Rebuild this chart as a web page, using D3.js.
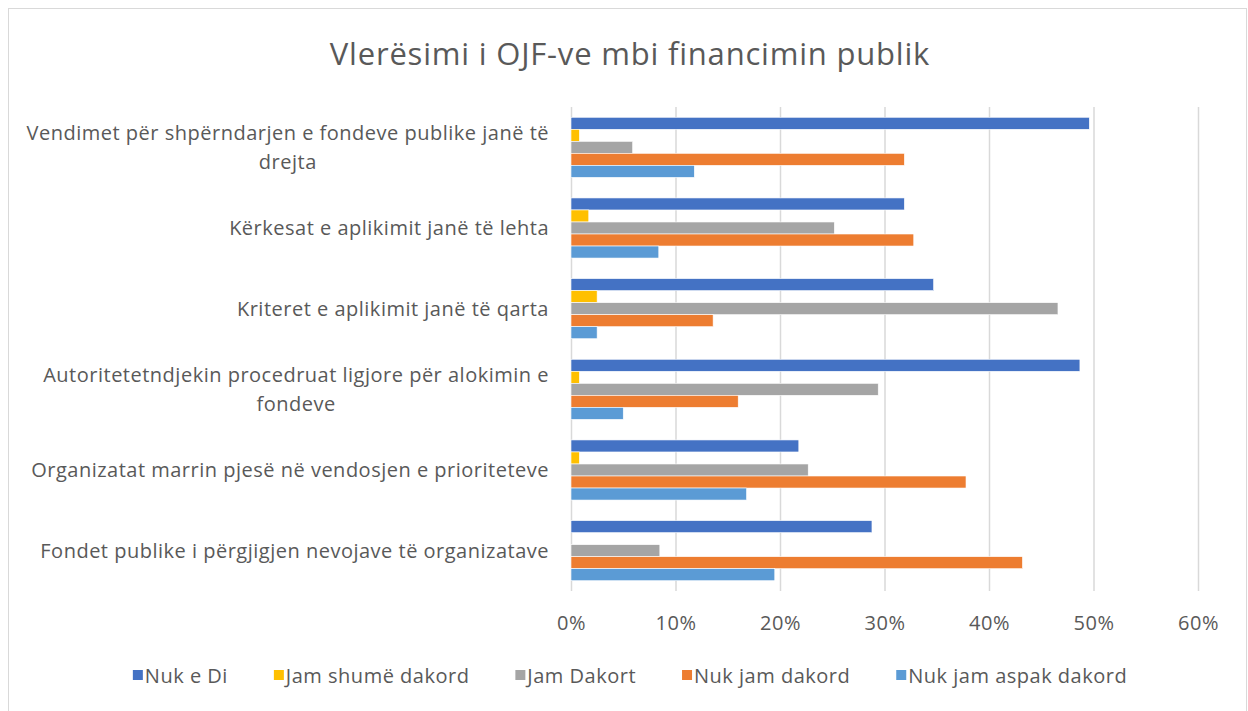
<!DOCTYPE html>
<html>
<head>
<meta charset="utf-8">
<script src="https://cdn.jsdelivr.net/npm/d3@7"></script>
<style>
  html, body { margin: 0; padding: 0; background: #fff; }
  svg { display: block; font-family: "Open Sans", Lato, sans-serif; }
</style>
</head>
<body>
<svg id="chart" width="1248" height="711"></svg>
<script>
const title = "Vlerësimi i OJF-ve mbi financimin publik";
const categories = [
  ["Vendimet për shpërndarjen e fondeve publike janë të", "drejta"],
  ["Kërkesat e aplikimit janë të lehta"],
  ["Kriteret e aplikimit janë të qarta"],
  ["Autoritetetndjekin procedruat ligjore për alokimin e", "fondeve"],
  ["Organizatat marrin pjesë në vendosjen e prioriteteve"],
  ["Fondet publike i përgjigjen nevojave të organizatave"]
];
const seriesNames = ["Nuk e Di", "Jam shumë dakord", "Jam Dakort", "Nuk jam dakord", "Nuk jam aspak dakord"];
const seriesColors = ["#4472C4", "#FFC000", "#A5A5A5", "#ED7D31", "#5B9BD5"];
// values per series, in category order (fractions)
const nukEDi          = [0.496, 0.319, 0.347, 0.487, 0.218, 0.288];
const jamShumeDakord  = [0.008, 0.017, 0.025, 0.008, 0.008, 0.000];
const jamDakort       = [0.059, 0.252, 0.466, 0.294, 0.227, 0.085];
const nukJamDakord    = [0.319, 0.328, 0.136, 0.160, 0.378, 0.432];
const nukJamAspak     = [0.118, 0.084, 0.025, 0.050, 0.168, 0.195];
const seriesValues = [nukEDi, jamShumeDakord, jamDakort, nukJamDakord, nukJamAspak];
const xTicks = [0, 0.1, 0.2, 0.3, 0.4, 0.5, 0.6];

const svg = d3.select("#chart");
const textColor = "#595959";
const gridColor = "#d9d9d9";
const fs = 20;
const ls = 0.5;

// outer border
svg.append("rect").attr("x", 8.5).attr("y", 8.5).attr("width", 1238).attr("height", 710)
  .attr("fill", "#fff").attr("stroke", gridColor).attr("stroke-width", 1);

// title
svg.append("text").attr("x", 630).attr("y", 65).attr("text-anchor", "middle")
  .attr("font-size", 31).attr("letter-spacing", 0.8).attr("fill", textColor).text(title);

const plot = { left: 571, right: 1198, top: 107, bottom: 591 };
const x = d3.scaleLinear().domain([0, 0.6]).range([plot.left, plot.right]);
const y0 = d3.scaleBand().domain(d3.range(categories.length))
  .range([plot.top, plot.bottom]).paddingInner(0.255).paddingOuter(0.1275);
const y1 = d3.scaleBand().domain(d3.range(seriesNames.length)).range([0, y0.bandwidth()]);

// gridlines via axis
const gridAxis = d3.axisBottom(x).tickValues(xTicks).tickSize(-(plot.bottom - plot.top)).tickFormat("");
const grid = svg.append("g").attr("transform", `translate(0,${plot.bottom})`).call(gridAxis);
grid.select(".domain").remove();
grid.selectAll("line").attr("stroke", gridColor).attr("stroke-width", 1.5);

// tick labels
const labelAxis = d3.axisBottom(x).tickValues(xTicks).tickSize(0).tickPadding(0).tickFormat(d3.format(".0%"));
const lab = svg.append("g").attr("transform", `translate(0,${plot.bottom + 39})`).call(labelAxis);
lab.select(".domain").remove();
lab.selectAll("text").attr("font-size", fs).attr("letter-spacing", ls).attr("fill", textColor)
  .attr("font-family", "'Open Sans', Lato, sans-serif").attr("dy", 0);

// bars
const groups = svg.append("g").selectAll("g").data(categories).join("g")
  .attr("transform", (d, i) => `translate(0,${y0(i)})`);
groups.each(function(cat, ci) {
  d3.select(this).selectAll("rect").data(seriesValues.map((s, si) => ({ si, v: s[ci] })))
    .join("rect")
    .attr("x", x(0))
    .attr("y", d => y1(d.si))
    .attr("width", d => x(d.v) - x(0))
    .attr("height", y1.bandwidth())
    .attr("fill", d => seriesColors[d.si])
    .attr("stroke", "#fff").attr("stroke-width", 0.6);
});

// category labels
const labelRight = 549;
const lineH = 29;
categories.forEach((lines, i) => {
  const cy = y0(i) + y0.bandwidth() / 2;
  const g = svg.append("g");
  const texts = lines.map((ln, li) => g.append("text")
    .attr("font-size", fs).attr("letter-spacing", ls).attr("fill", textColor).attr("text-anchor", "middle")
    .attr("y", cy + (li - (lines.length - 1) / 2) * lineH + 7).text(ln));
  const w = d3.max(texts, t => t.node().getComputedTextLength());
  texts.forEach(t => t.attr("x", labelRight - w / 2));
});

// legend
const legendY = 676;
const lg = svg.append("g");
const items = seriesNames.map((n, i) => {
  const it = lg.append("g");
  it.append("rect").attr("width", 10).attr("height", 10).attr("y", -6).attr("fill", seriesColors[i]);
  const t = it.append("text").attr("x", 12).attr("y", 0).attr("dy", "0.35em")
    .attr("font-size", fs).attr("letter-spacing", ls).attr("fill", textColor).text(n);
  return { it, w: 12 + t.node().getComputedTextLength() };
});
const gap = 46;
const total = d3.sum(items, d => d.w) + gap * (items.length - 1);
let cx = 630 - total / 2;
items.forEach(d => { d.it.attr("transform", `translate(${cx},${legendY})`); cx += d.w + gap; });
</script>
</body>
</html>
